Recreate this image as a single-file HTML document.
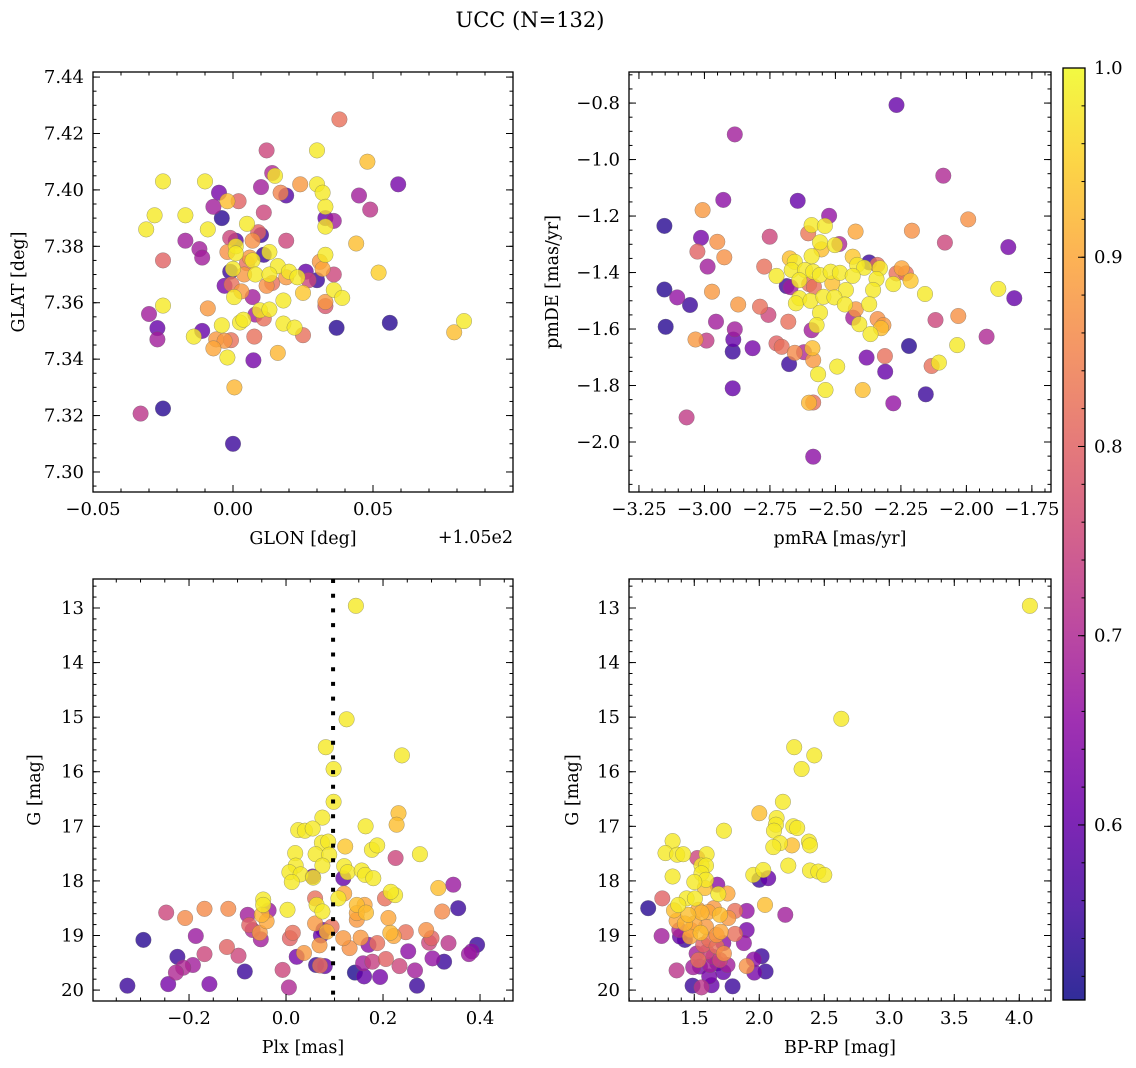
<!DOCTYPE html>
<html><head><meta charset="utf-8">
<style>
html,body{margin:0;padding:0;background:#fff;}
svg{display:block;font-family:"DejaVu Serif","Liberation Serif",serif;}
</style></head>
<body>
<svg id="fig" width="1136" height="1068" viewBox="0 0 1136 1068" xmlns="http://www.w3.org/2000/svg">
<defs>
<linearGradient id="plasmaGrad" x1="0" y1="1" x2="0" y2="0">
<stop offset="0" stop-color="#0d0887"/><stop offset="0.1" stop-color="#41049d"/><stop offset="0.2" stop-color="#6a00a8"/><stop offset="0.3" stop-color="#8f0da4"/><stop offset="0.4" stop-color="#b12a90"/><stop offset="0.5" stop-color="#cc4778"/><stop offset="0.6" stop-color="#e16462"/><stop offset="0.7" stop-color="#f2844b"/><stop offset="0.8" stop-color="#fca636"/><stop offset="0.9" stop-color="#fcce25"/><stop offset="1" stop-color="#f0f921"/>
</linearGradient>
</defs>
<text x="530" y="27" font-size="21" text-anchor="middle">UCC (N=132)</text>
</svg>
<script>
// ---- data ----
const glonGlatProb = [[.038,7.425,.82],[.012,7.414,.75],[.030,7.414,.98],[.048,7.410,.93],[.014,7.406,.70],[.015,7.405,.98],[-.025,7.403,.98],[-.010,7.403,.98],[.059,7.402,.62],[.010,7.401,.68],[.024,7.402,.88],[.030,7.402,.98],[.032,7.399,.98],[.017,7.399,.85],[.019,7.398,.58],[-.005,7.399,.62],[-.002,7.396,.93],[.002,7.396,.80],[-.007,7.394,.68],[.045,7.398,.68],[.049,7.393,.72],[.033,7.394,.98],[.033,7.390,.60],[.036,7.389,.68],[.033,7.387,.98],[.011,7.392,.75],[-.028,7.391,.98],[-.017,7.391,.98],[-.004,7.390,.53],[-.031,7.386,.98],[-.009,7.386,.98],[.005,7.388,.98],[.044,7.381,.93],[-.017,7.382,.68],[-.012,7.379,.68],[-.011,7.376,.68],[-.025,7.375,.80],[.019,7.382,.75],
[-.001,7.383,.75],[.001,7.382,.58],[.009,7.385,.80],[.007,7.382,.87],[.010,7.384,.55],[-.002,7.378,.87],[.001,7.380,.98],[.001,7.3775,.98],[.006,7.376,.88],[.007,7.375,.98],[.011,7.377,.55],[.013,7.378,.98],[.016,7.373,.98],[.005,7.374,.82],[.000,7.372,.98],[-.001,7.371,.55],[.004,7.370,.88],[.008,7.370,.98],[.013,7.370,.98],[.019,7.369,.88],[.020,7.371,.98],[.023,7.369,.98],[.026,7.371,.60],[.027,7.368,.75],[.030,7.368,.55],[.031,7.3745,.88],[.033,7.377,.98],[.032,7.372,.90],[.036,7.370,.75],[-.003,7.366,.62],[-.0005,7.3665,.82],[.003,7.364,.88],[.0004,7.362,.98],[.007,7.362,.68],[.012,7.366,.87],[.014,7.367,.82],[.025,7.3635,.94],[.036,7.3645,.98],[.039,7.3617,.98],[.033,7.3603,.88],[.033,7.3588,.78],[.018,7.3608,.98],[.052,7.3707,.95],[.008,7.3558,.68],[.011,7.3544,.82],[.0096,7.3573,.98],[.013,7.3576,.98],
[-.030,7.356,.68],[-.025,7.359,.98],[-.009,7.358,.88],[-.027,7.351,.60],[-.027,7.347,.68],[-.011,7.350,.60],[-.014,7.348,.98],[-.004,7.352,.98],[.0025,7.353,.98],[.0037,7.354,.98],[-.006,7.347,.88],[-.003,7.3465,.88],[-.0007,7.3467,.82],[-.007,7.3438,.90],[.0076,7.348,.82],[-.002,7.3406,.98],[.0073,7.3396,.62],[.016,7.3422,.92],[.018,7.3526,.98],[.022,7.3512,.98],[.025,7.3485,.82],[.037,7.3511,.53],[.056,7.3529,.53],[.079,7.3495,.93],[.0825,7.3535,.98],[.0005,7.330,.92],[-.025,7.3225,.53],[-.033,7.3207,.72],[0,7.310,.55]];
const pmraPmdeProb = [[-2.267,-0.807,.60],[-2.884,-0.911,.68],[-2.088,-1.057,.70],[-2.928,-1.143,.65],[-2.644,-1.146,.60],[-3.007,-1.179,.88],[-3.153,-1.235,.53],[-2.524,-1.199,.66],[-1.993,-1.212,.87],[-3.013,-1.277,.62],[-2.951,-1.291,.87],[-2.751,-1.273,.75],[-3.027,-1.326,.80],[-2.924,-1.346,.87],[-2.988,-1.379,.68],[-2.772,-1.379,.82],[-2.591,-1.232,.98],[-2.540,-1.235,.98],[-2.604,-1.261,.83],[-2.423,-1.255,.90],[-2.208,-1.252,.87],[-2.082,-1.294,.75],[-1.840,-1.310,.62],[-2.559,-1.293,.98],[-2.553,-1.318,.93],[-2.502,-1.303,.98],[-2.485,-1.299,.70],[-2.591,-1.342,.98],[-2.674,-1.350,.93],[-2.655,-1.362,.98],[-2.667,-1.391,.98],[-2.616,-1.391,.98],[-2.585,-1.397,.98],[-2.559,-1.409,.98],[-2.518,-1.397,.98],[-2.483,-1.401,.98],[-2.434,-1.344,.94],[-2.417,-1.373,.98],[-2.390,-1.383,.98],[-2.371,-1.364,.55],[-2.340,-1.373,.82],[-2.330,-1.385,.98],[-2.247,-1.385,.90],[-2.267,-1.403,.82],[-2.231,-1.403,.82],[-2.213,-1.429,.94],[-2.279,-1.441,.98],[-2.343,-1.423,.98],[-2.434,-1.412,.98],[-2.725,-1.412,.98],[-2.638,-1.427,.98],[-2.686,-1.448,.55],[-2.671,-1.452,.68],[-2.600,-1.441,.82],[-2.582,-1.450,.82],[-2.512,-1.438,.93],[-2.460,-1.462,.98],[-2.356,-1.462,.98],[-2.158,-1.476,.98],[-1.878,-1.458,.98],[-1.817,-1.491,.60],[-3.153,-1.460,.53],[-3.104,-1.488,.66],[-3.055,-1.515,.55],[-2.971,-1.468,.88],[-2.871,-1.513,.88],[-2.788,-1.521,.82],[-2.756,-1.550,.75],[-2.638,-1.491,.98],[-2.651,-1.509,.98],[-2.595,-1.500,.98],[-2.546,-1.486,.98],[-2.504,-1.488,.98],[-2.464,-1.513,.98],[-2.371,-1.512,.98],[-2.559,-1.542,.98],[-2.422,-1.530,.88],[-2.432,-1.560,.68],[-2.409,-1.583,.98],[-2.339,-1.565,.87],[-2.317,-1.586,.88],[-2.326,-1.597,.93],[-2.366,-1.618,.98],[-2.572,-1.586,.98],[-2.591,-1.604,.68],[-2.680,-1.574,.82],[-3.148,-1.592,.53],[-2.956,-1.574,.68],[-2.884,-1.601,.68],[-2.890,-1.637,.60],[-2.892,-1.680,.55],[-3.034,-1.637,.88],[-2.992,-1.641,.73],[-2.816,-1.668,.62],[-2.725,-1.651,.80],[-2.705,-1.663,.82],[-2.655,-1.684,.86],[-2.620,-1.682,.70],[-2.588,-1.668,.93],[-2.585,-1.710,.88],[-2.677,-1.724,.55],[-2.566,-1.760,.98],[-2.493,-1.733,.98],[-2.381,-1.701,.62],[-2.311,-1.696,.82],[-2.310,-1.751,.60],[-2.219,-1.660,.53],[-2.118,-1.568,.75],[-2.031,-1.554,.87],[-1.923,-1.627,.70],[-2.035,-1.657,.98],[-2.133,-1.731,.82],[-2.105,-1.719,.98],[-2.892,-1.810,.60],[-2.538,-1.816,.98],[-2.396,-1.816,.93],[-2.585,-1.860,.82],[-2.601,-1.861,.92],[-2.279,-1.863,.66],[-2.155,-1.831,.55],[-3.068,-1.913,.73],[-2.585,-2.052,.65]];
const plxGProb = [[.144,12.96,.98],[.125,15.04,.98],[.082,15.55,.98],[.098,15.95,.98],[.239,15.70,.98],[.098,16.55,.98],[.232,16.76,.93],[.228,16.97,.93],[.164,17.00,.98],[.075,16.84,.98],[.025,17.07,.98],[.039,17.08,.98],[.055,17.04,.98],[.074,17.30,.98],[.087,17.28,.98],[.122,17.37,.94],[.177,17.43,.98],[.188,17.35,.98],[.019,17.49,.98],[.061,17.51,.98],[.089,17.52,.98],[.226,17.58,.75],[.276,17.51,.98],[.020,17.72,.98],[.075,17.72,.98],[.120,17.73,.98],[.007,17.84,.98],[.030,17.88,.98],[.012,18.02,.98],[.055,17.92,.60],[.056,17.94,.98],[.127,17.84,.98],[.118,17.95,.60],[.156,17.81,.98],[.163,17.89,.98],[.180,17.95,.98],[.314,18.13,.93],[.345,18.07,.67],[.355,18.50,.55],[.225,18.26,.98],[.216,18.20,.98],[.204,18.32,.82],[.120,18.23,.90],[.108,18.32,.98],[.060,18.32,.82],[.063,18.44,.98],[.075,18.56,.98],[.146,18.44,.93],[.162,18.44,.90],[.165,18.58,.93],[.146,18.59,.90],[.146,18.71,.88],[-.047,18.34,.98],[-.047,18.44,.98],[-.036,18.54,.67],[-.050,18.62,.92],[-.040,18.74,.90],[.003,18.53,.98],[-.247,18.58,.75],[-.208,18.68,.86],[-.168,18.51,.86],[-.119,18.51,.86],[-.079,18.62,.68],[-.076,18.81,.80],[-.069,18.90,.70],[-.054,18.95,.88],[-.052,19.07,.68],[.060,18.78,.88],[.084,18.93,.92],[.077,18.90,.60],[.094,18.84,.82],[.211,18.68,.90],[.322,18.56,.86],[.215,18.95,.92],[.222,19.01,.90],[-.294,19.08,.53],[-.186,19.01,.67],[-.122,19.21,.80],[.014,18.95,.82],[.008,19.05,.80],[.072,19.00,.60],[.118,19.05,.88],[.154,19.04,.88],[.069,19.18,.88],[.131,19.23,.87],[.170,19.17,.65],[.188,19.14,.82],[.247,18.94,.82],[.289,18.90,.87],[.300,19.05,.80],[.295,19.13,.75],[.335,19.14,.72],[.394,19.17,.55],[.383,19.29,.65],[.377,19.34,.67],[-.224,19.39,.55],[-.168,19.34,.75],[-.098,19.37,.75],[-.192,19.54,.68],[-.212,19.59,.70],[-.227,19.68,.70],[-.085,19.66,.55],[-.007,19.63,.75],[.022,19.39,.62],[.037,19.32,.88],[.062,19.54,.55],[.070,19.55,.82],[.080,19.56,.60],[.142,19.68,.52],[.161,19.75,.60],[.159,19.51,.68],[.178,19.48,.74],[.206,19.43,.80],[.194,19.76,.62],[.234,19.56,.75],[.252,19.29,.65],[.266,19.64,.68],[.270,19.92,.55],[.302,19.42,.66],[.326,19.48,.55],[-.327,19.92,.55],[-.243,19.89,.62],[-.158,19.89,.63],[.006,19.95,.70]];
const bprpGProb = [[4.082,12.96,.98],[2.631,15.03,.98],[2.269,15.55,.98],[2.423,15.70,.98],[2.326,15.95,.98],[2.182,16.55,.98],[2.000,16.76,.93],[2.133,16.85,.98],[2.128,16.97,.98],[2.113,17.08,.98],[2.262,17.00,.98],[2.292,17.03,.98],[1.728,17.08,.98],[2.159,17.31,.98],[2.108,17.38,.98],[2.251,17.35,.93],[2.382,17.28,.98],[2.390,17.35,.98],[2.223,17.72,.98],[2.390,17.81,.98],[2.454,17.83,.98],[2.500,17.89,.98],[1.954,17.89,.98],[2.031,17.80,.98],[2.000,17.98,.55],[2.069,17.95,.60],[2.044,18.44,.93],[2.200,18.62,.68],[1.333,17.27,.98],[1.279,17.49,.98],[1.369,17.52,.98],[1.415,17.51,.98],[1.333,17.92,.98],[1.523,17.58,.75],[1.595,17.51,.98],[1.556,17.72,.98],[1.590,17.72,.98],[1.556,17.86,.98],[1.590,17.98,.98],[1.500,18.02,.98],[1.582,18.13,.93],[1.677,18.07,.65],[1.685,18.24,.98],[1.756,18.23,.90],[1.254,18.32,.80],[1.146,18.50,.53],[1.441,18.32,.98],[1.505,18.32,.98],[1.377,18.44,.98],[1.344,18.54,.93],[1.454,18.62,.93],[1.531,18.53,.90],[1.556,18.58,.92],[1.608,18.57,.90],[1.651,18.50,.88],[1.697,18.62,.93],[1.762,18.68,.88],[1.813,18.55,.82],[1.903,18.55,.66],[1.364,18.73,.90],[1.428,18.78,.92],[1.500,18.78,.90],[1.590,18.84,.88],[1.249,19.01,.68],[1.385,18.90,.70],[1.390,19.02,.60],[1.428,19.08,.55],[1.467,19.02,.90],[1.549,18.95,.93],[1.474,18.90,.88],[1.672,18.99,.88],[1.703,18.93,.90],[1.813,18.97,.82],[1.903,18.90,.62],[1.882,19.14,.66],[1.569,19.17,.80],[1.615,19.08,.82],[1.723,19.14,.65],[1.672,19.20,.82],[1.728,19.33,.87],[1.518,19.33,.68],[1.595,19.30,.75],[1.646,19.39,.70],[1.697,19.45,.75],[1.531,19.45,.82],[1.959,19.44,.65],[2.018,19.38,.55],[1.903,19.56,.87],[1.492,19.58,.68],[1.544,19.57,.62],[1.620,19.54,.68],[1.677,19.51,.60],[1.756,19.54,.68],[1.364,19.64,.72],[1.723,19.67,.60],[1.962,19.68,.62],[2.049,19.66,.55],[1.615,19.75,.62],[1.487,19.92,.55],[1.556,19.95,.72],[1.633,19.91,.60],[1.795,19.93,.55]];
const plxCut = [0.097];
const glonTicks = [-0.05, 0, 0.05];
const glonTickLabels = ["−0.05","0.00","0.05"];
const glatTicks = [7.30,7.32,7.34,7.36,7.38,7.40,7.42,7.44];
const glatTickLabels = ["7.30","7.32","7.34","7.36","7.38","7.40","7.42","7.44"];
const pmraTicks = [-3.25,-3.0,-2.75,-2.5,-2.25,-2.0,-1.75];
const pmraTickLabels = ["−3.25","−3.00","−2.75","−2.50","−2.25","−2.00","−1.75"];
const pmdeTicks = [-0.8,-1.0,-1.2,-1.4,-1.6,-1.8,-2.0];
const pmdeTickLabels = ["−0.8","−1.0","−1.2","−1.4","−1.6","−1.8","−2.0"];
const plxTicks = [-0.2,0,0.2,0.4];
const plxTickLabels = ["−0.2","0.0","0.2","0.4"];
const gTicks = [13,14,15,16,17,18,19,20];
const gTickLabels = ["13","14","15","16","17","18","19","20"];
const bprpTicks = [1.5,2.0,2.5,3.0,3.5,4.0];
const bprpTickLabels = ["1.5","2.0","2.5","3.0","3.5","4.0"];
const cbarTicks = [0.6,0.7,0.8,0.9,1.0];
const cbarTickLabels = ["0.6","0.7","0.8","0.9","1.0"];
const vmin = 0.5075, vmax = 1.0;

const NS = "http://www.w3.org/2000/svg";
const svg = document.getElementById('fig');
const TF = 18;
function mk(tag, attrs, parent){const e=document.createElementNS(NS,tag);for(const k in attrs)e.setAttribute(k,attrs[k]);(parent||svg).appendChild(e);return e;}
const stops=[[13,8,135],[65,4,157],[106,0,168],[143,13,164],[177,42,144],[204,71,120],[225,100,98],[242,132,75],[252,166,54],[252,206,37],[240,249,33]];
function cmap(v){let t=(v-vmin)/(vmax-vmin);t=Math.max(0,Math.min(1,t))*10;const i=Math.min(9,Math.floor(t)),f=t-i;const a=stops[i],b=stops[i+1];return `rgb(${Math.round(a[0]+(b[0]-a[0])*f)},${Math.round(a[1]+(b[1]-a[1])*f)},${Math.round(a[2]+(b[2]-a[2])*f)})`;}

function panel(cfg){
  const g=mk('g',{});
  
  
  const sx=v=>cfg.x0+(v-cfg.xlim[0])/(cfg.xlim[1]-cfg.xlim[0])*(cfg.x1-cfg.x0);
  const sy=v=>cfg.y1-(v-cfg.ylim[0])/(cfg.ylim[1]-cfg.ylim[0])*(cfg.y1-cfg.y0);
  const pts=cfg.data.slice().sort((a,b)=>a[2]-b[2]);
  const clip='clip-'+cfg.name;
  const cp=mk('clipPath',{id:clip},g);mk('rect',{x:cfg.x0,y:cfg.y0,width:cfg.x1-cfg.x0,height:cfg.y1-cfg.y0},cp);
  const pg=mk('g',{'clip-path':`url(#${clip})`},g);
  pts.forEach(p=>{
    const c=mk('circle',{cx:sx(p[0]).toFixed(1),cy:sy(p[1]).toFixed(1),r:7.8,fill:cmap(p[2]),'fill-opacity':0.8,stroke:'#666','stroke-opacity':0.6,'stroke-width':0.5},pg);
    
    
  });
  if(cfg.vline){cfg.vline.forEach(v=>{
    const l=mk('line',{x1:sx(v),x2:sx(v),y1:cfg.y0,y2:cfg.y1,stroke:'#000','stroke-width':4,'stroke-dasharray':'4 10.7'},pg);
    
    
  });}
  const tk=mk('g',{stroke:'#000','stroke-width':1},g);
  function xtick(v,len){const x=sx(v);if(x<cfg.x0-0.5||x>cfg.x1+0.5)return;mk('line',{x1:x,x2:x,y1:cfg.y1,y2:cfg.y1-len},tk);mk('line',{x1:x,x2:x,y1:cfg.y0,y2:cfg.y0+len},tk);}
  function ytick(v,len){const y=sy(v);if(y<cfg.y0-0.5||y>cfg.y1+0.5)return;mk('line',{x1:cfg.x0,x2:cfg.x0+len,y1:y,y2:y},tk);mk('line',{x1:cfg.x1,x2:cfg.x1-len,y1:y,y2:y},tk);}
  const xs=Math.min(...cfg.xlim),xe=Math.max(...cfg.xlim);
  for(let k=Math.ceil(xs/cfg.xminor-1e-6);k*cfg.xminor<=xe+1e-9;k++)xtick(k*cfg.xminor,3.5);
  const ys=Math.min(...cfg.ylim),ye=Math.max(...cfg.ylim);
  for(let k=Math.ceil(ys/cfg.yminor-1e-6);k*cfg.yminor<=ye+1e-9;k++)ytick(k*cfg.yminor,3.5);
  cfg.xt.forEach(v=>xtick(v,7));cfg.yt.forEach(v=>ytick(v,7));
  const fr=mk('rect',{x:cfg.x0,y:cfg.y0,width:cfg.x1-cfg.x0,height:cfg.y1-cfg.y0,fill:'none',stroke:'#000','stroke-width':1.3},g);
  
  
  cfg.xt.forEach((v,i)=>{const t=mk('text',{x:sx(v),y:cfg.y1+23,'font-size':TF,'text-anchor':'middle'},g);t.textContent=cfg.xl[i];
    
    });
  cfg.yt.forEach((v,i)=>{const t=mk('text',{x:cfg.x0-9,y:sy(v)+6,'font-size':TF,'text-anchor':'end'},g);t.textContent=cfg.yl[i];
    
    });
  const xt=mk('text',{x:(cfg.x0+cfg.x1)/2,y:cfg.y1+52,'font-size':17.5,'text-anchor':'middle'},g);xt.textContent=cfg.xlabel;
  
  
  const yy=(cfg.y0+cfg.y1)/2;
  const yt=mk('text',{x:cfg.ylx,y:yy,'font-size':17.5,'text-anchor':'middle',transform:`rotate(-90 ${cfg.ylx} ${yy})`},g);yt.textContent=cfg.ylabel;
  
  
  return g;
}

panel({name:'glon-glat-panel',x0:93,x1:513,y0:72,y1:492,xlim:[-0.05,0.1],ylim:[7.2929,7.4418],data:glonGlatProb,xt:glonTicks,xl:glonTickLabels,yt:glatTicks,yl:glatTickLabels,xminor:0.01,yminor:0.005,xlabel:'GLON [deg]',ylabel:'GLAT [deg]',ylx:24});
const off=mk('text',{x:513,y:543,'font-size':17.5,'text-anchor':'end'});off.textContent='+1.05e2';


panel({name:'pmra-pmde-panel',x0:629,x1:1051,y0:72,y1:492,xlim:[-3.288,-1.677],ylim:[-2.177,-0.690],data:pmraPmdeProb,xt:pmraTicks,xl:pmraTickLabels,yt:pmdeTicks,yl:pmdeTickLabels,xminor:0.05,yminor:0.05,xlabel:'pmRA [mas/yr]',ylabel:'pmDE [mas/yr]',ylx:558});
panel({name:'plx-g-panel',x0:93,x1:513,y0:579,y1:1001,xlim:[-0.398,0.468],ylim:[20.2,12.469],data:plxGProb,xt:plxTicks,xl:plxTickLabels,yt:gTicks,yl:gTickLabels,xminor:0.05,yminor:0.2,xlabel:'Plx [mas]',ylabel:'G [mag]',ylx:40,vline:plxCut});
panel({name:'bprp-g-panel',x0:629,x1:1051,y0:579,y1:1001,xlim:[0.998,4.244],ylim:[20.2,12.469],data:bprpGProb,xt:bprpTicks,xl:bprpTickLabels,yt:gTicks,yl:gTickLabels,xminor:0.1,yminor:0.2,xlabel:'BP-RP [mag]',ylabel:'G [mag]',ylx:578});

const cb=mk('g',{});


const cbx0=1063,cbx1=1085,cby0=68,cby1=1000;
const cy=v=>cby1-(v-vmin)/(vmax-vmin)*(cby1-cby0);
mk('rect',{x:cbx0,y:cby0,width:cbx1-cbx0,height:cby1-cby0,fill:'url(#plasmaGrad)','fill-opacity':0.85},cb);
for(let k=26;k<=50;k++){const v=k*0.02;if(v<vmin)continue;const y=cy(v);mk('line',{x1:cbx1,x2:cbx1-3.5,y1:y,y2:y,stroke:'#000','stroke-width':1},cb);}
cbarTicks.forEach((v,i)=>{const y=cy(v);mk('line',{x1:cbx1,x2:cbx1-7,y1:y,y2:y,stroke:'#000','stroke-width':1},cb);
  const t=mk('text',{x:cbx1+9,y:y+6,'font-size':TF},cb);t.textContent=cbarTickLabels[i];
  
  });
mk('rect',{x:cbx0,y:cby0,width:cbx1-cbx0,height:cby1-cby0,fill:'none',stroke:'#000','stroke-width':1.3},cb);
</script>
</body></html>
